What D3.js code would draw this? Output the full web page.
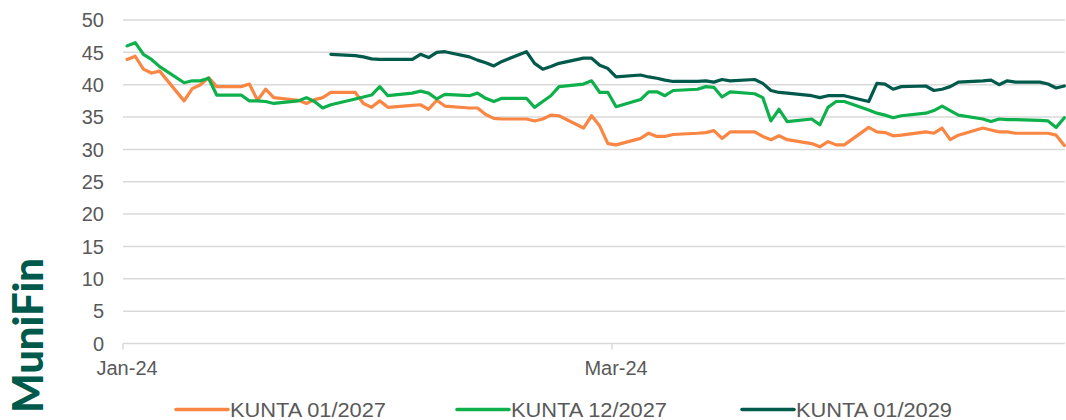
<!DOCTYPE html>
<html>
<head>
<meta charset="utf-8">
<script src="https://cdn.jsdelivr.net/npm/d3@7"></script>
<style>
  html, body { margin: 0; padding: 0; background: #fff; }
  svg { display: block; }
  text { font-family: "Liberation Sans", Arial, sans-serif; }
</style>
</head>
<body>
<svg id="chart" width="1066" height="420"></svg>
<script>
// Trading days (2024), month-day
const dates = [
  "01-01","01-02","01-03","01-04","01-05",
  "01-08","01-09","01-10","01-11","01-12",
  "01-15","01-16","01-17","01-18","01-19",
  "01-22","01-23","01-24","01-25","01-26",
  "01-29","01-30","01-31","02-01","02-02",
  "02-05","02-06","02-07","02-08","02-09",
  "02-12","02-13","02-14","02-15","02-16",
  "02-19","02-20","02-21","02-22","02-23",
  "02-26","02-27","02-28","02-29","03-01",
  "03-04","03-05","03-06","03-07","03-08",
  "03-11","03-12","03-13","03-14","03-15",
  "03-18","03-19","03-20","03-21","03-22",
  "03-25","03-26","03-27","03-28","03-29",
  "04-01","04-02","04-03","04-04","04-05",
  "04-08","04-09","04-10","04-11","04-12",
  "04-15","04-16","04-17","04-18","04-19",
  "04-22","04-23","04-24","04-25"
];

const kunta012027 = [
  43.9,44.4,42.4,41.8,42.1,
  37.5,39.4,40.0,41.1,39.7,
  39.7,40.1,37.6,39.3,38.0,
  37.6,37.1,37.7,38.0,38.8,
  38.8,37.1,36.5,37.5,36.5,
  36.8,36.9,36.2,37.6,36.7,
  36.4,36.4,35.4,34.8,34.7,
  34.7,34.4,34.7,35.3,35.2,
  33.3,35.2,33.6,30.9,30.7,
  31.7,32.5,32.0,32.0,32.3,
  32.5,32.6,32.9,31.7,32.7,
  32.7,32.0,31.5,32.1,31.5,
  30.9,30.4,31.2,30.7,30.7,
  33.4,32.7,32.6,32.1,32.2,
  32.7,32.5,33.3,31.5,32.2,
  33.3,33.0,32.7,32.7,32.5,
  32.5,32.5,32.2,30.6
];

const kunta122027 = [
  46.0,46.5,44.7,43.9,42.8,
  40.3,40.6,40.6,41.0,38.4,
  38.4,37.5,37.5,37.4,37.1,
  37.5,38.0,37.4,36.4,36.9,
  37.8,38.1,38.4,39.7,38.3,
  38.7,39.0,38.7,37.8,38.5,
  38.3,38.7,37.9,37.4,37.9,
  37.9,36.5,37.4,38.3,39.7,
  40.1,40.6,38.8,38.8,36.6,
  37.7,38.9,38.9,38.3,39.1,
  39.3,39.7,39.6,38.1,38.9,
  38.6,38.0,34.4,36.2,34.3,
  34.7,33.8,36.5,37.4,37.4,
  36.1,35.6,35.3,34.9,35.2,
  35.6,36.0,36.7,36.0,35.3,
  34.7,34.3,34.7,34.6,34.6,
  34.5,34.4,33.4,34.9
];

const kunta012029 = [
  null,null,null,null,null,
  null,null,null,null,null,
  null,null,null,null,null,
  null,null,null,null,44.7,
  44.5,44.3,44.0,43.9,43.9,
  43.9,44.7,44.2,45.0,45.1,
  44.3,43.8,43.4,42.9,43.6,
  45.1,43.3,42.4,42.8,43.3,
  44.1,44.1,43.0,42.5,41.2,
  41.5,41.2,41.0,40.7,40.5,
  40.5,40.6,40.4,40.8,40.6,
  40.8,40.2,39.1,38.8,38.7,
  38.3,38.0,38.3,38.3,38.3,
  37.4,40.2,40.1,39.3,39.7,
  39.8,39.1,39.3,39.7,40.4,
  40.6,40.7,40.0,40.6,40.4,
  40.4,40.1,39.5,39.8
];

const seriesNames = ["KUNTA 01/2027", "KUNTA 12/2027", "KUNTA 01/2029"];
const seriesColors = ["#FA8644", "#0DB04B", "#005A4B"];
const yTicks = [0, 5, 10, 15, 20, 25, 30, 35, 40, 45, 50];
const xTickLabels = ["Jan-24", "Mar-24"];

const parseDay = d3.utcParse("%Y-%m-%d");
const days = dates.map(d => parseDay("2024-" + d));
const allSeries = [kunta012027, kunta122027, kunta012029];

const svg = d3.select("#chart");
const plotLeft = 123, plotRight = 1068.4, plotTop = 20, plotBottom = 343.5;
const gridEnd = 1065;

const x = d3.scaleUtc()
  .domain([parseDay("2024-01-01"), parseDay("2024-04-26")])
  .range([plotLeft, plotRight]);
const y = d3.scaleLinear().domain([0, 50]).range([plotBottom, plotTop]);

// each point sits in the middle of its day slot
const halfDay = (x(parseDay("2024-01-02")) - x(parseDay("2024-01-01"))) / 2;
const px = d => x(d) + halfDay;

// horizontal gridlines and value labels
const yAxis = svg.append("g");
yAxis.selectAll("line").data(yTicks.filter(t => t > 0)).join("line")
  .attr("x1", plotLeft).attr("x2", gridEnd)
  .attr("y1", d => y(d)).attr("y2", d => y(d))
  .attr("stroke", "#D9D9D9").attr("stroke-width", 1.5);
yAxis.selectAll("text").data(yTicks).join("text")
  .attr("x", 104).attr("y", d => y(d))
  .attr("dy", "0.36em")
  .attr("text-anchor", "end")
  .attr("font-size", 20).attr("fill", "#595959")
  .text(d => d);

// category axis baseline with tick marks
const xTickDates = [parseDay("2024-01-01"), parseDay("2024-03-01")];
const xAxis = svg.append("g");
xAxis.append("line")
  .attr("x1", plotLeft).attr("x2", gridEnd)
  .attr("y1", plotBottom).attr("y2", plotBottom)
  .attr("stroke", "#D9D9D9").attr("stroke-width", 1.5);
xAxis.selectAll("line.tick").data(xTickDates).join("line")
  .attr("class", "tick")
  .attr("x1", d => x(d)).attr("x2", d => x(d))
  .attr("y1", plotBottom).attr("y2", plotBottom + 6)
  .attr("stroke", "#D9D9D9").attr("stroke-width", 1.5);
xAxis.selectAll("text").data(xTickDates).join("text")
  .attr("x", d => px(d)).attr("y", 375)
  .attr("text-anchor", "middle")
  .attr("font-size", 20).attr("fill", "#595959")
  .text((d, i) => xTickLabels[i]);

// series lines
const line = d3.line()
  .defined(d => d.v != null)
  .x(d => px(d.date))
  .y(d => y(d.v));

allSeries.forEach((vals, i) => {
  const pts = days.map((date, j) => ({ date, v: vals[j] }));
  svg.append("path")
    .datum(pts)
    .attr("fill", "none")
    .attr("stroke", seriesColors[i])
    .attr("stroke-width", 3.2)
    .attr("stroke-linejoin", "round")
    .attr("stroke-linecap", "round")
    .attr("d", line);
});

// legend
const legendX = [176, 457, 742];
const legend = svg.append("g");
seriesNames.forEach((name, i) => {
  legend.append("line")
    .attr("x1", legendX[i]).attr("x2", legendX[i] + 52)
    .attr("y1", 409.5).attr("y2", 409.5)
    .attr("stroke", seriesColors[i]).attr("stroke-width", 3.5)
    .attr("stroke-linecap", "round");
  legend.append("text")
    .attr("x", legendX[i] + 54).attr("y", 417)
    .attr("font-size", 20).attr("fill", "#595959")
    .attr("textLength", 156).attr("lengthAdjust", "spacingAndGlyphs")
    .text(name);
});

// vertical wordmark
svg.append("text")
  .attr("transform", "translate(43,413) rotate(-90)")
  .attr("font-size", 42).attr("font-weight", 900)
  .attr("fill", "#005A4B")
  .attr("textLength", 155).attr("lengthAdjust", "spacingAndGlyphs")
  .style("font-family", "Lato, 'Liberation Sans', sans-serif")
  .text("MuniFin");
</script>
</body>
</html>
